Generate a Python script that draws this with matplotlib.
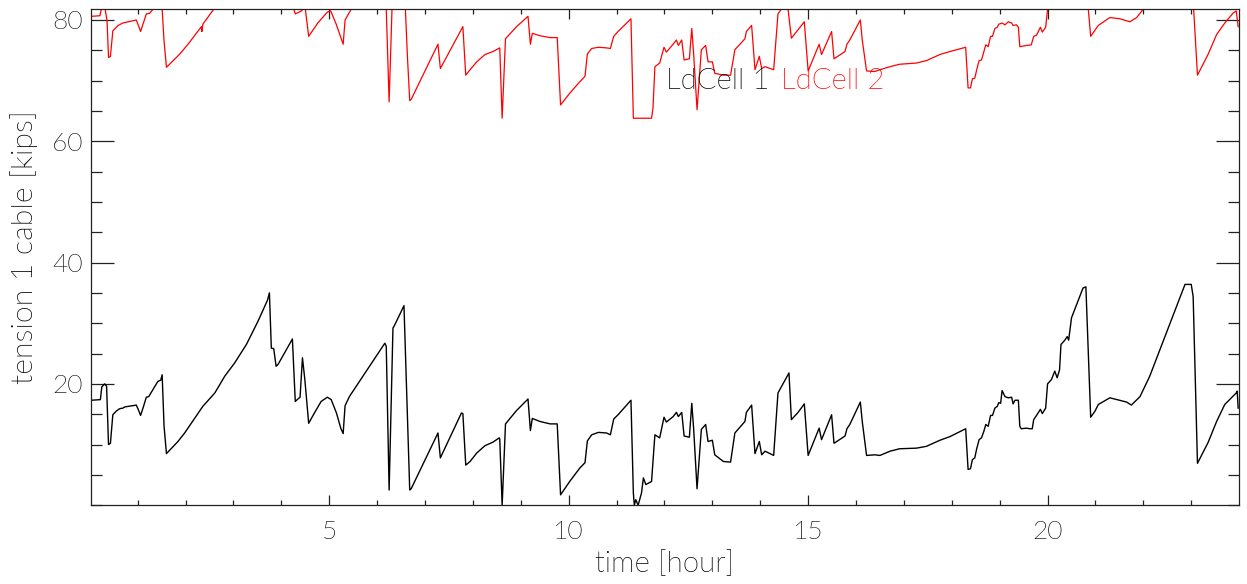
import matplotlib
matplotlib.use("Agg")
import matplotlib.pyplot as plt
import matplotlib.font_manager as fm
from matplotlib.ticker import MultipleLocator, FixedLocator

# thin sans font, like the IDL plot (Lato Light if it is there)
lato_light = [f.fname for f in fm.fontManager.ttflist
              if f.name == 'Lato' and 'Light' in f.fname and 'Italic' not in f.fname]
if lato_light:
    fonte = fm.FontProperties(fname=lato_light[0])
    escala = 1.12
else:
    fonte = fm.FontProperties(family='DejaVu Sans')
    escala = 1.0

# LdCell 1 (black)
hora1 = [0.03, 0.22, 0.25, 0.31, 0.35, 0.39, 0.43, 0.48, 0.55, 0.62, 0.69, 0.73, 0.97, 1.01, 1.06,
         1.11, 1.18, 1.23, 1.42, 1.48, 1.51, 1.55, 1.60, 1.84, 1.98, 2.36, 2.61, 2.82, 3.02, 3.27,
         3.51, 3.71, 3.75, 3.79, 3.84, 3.89, 3.93, 4.23, 4.29, 4.33, 4.39, 4.44, 4.49, 4.57, 4.69,
         4.83, 4.96, 5.04, 5.15, 5.24, 5.29, 5.33, 5.42, 6.16, 6.19, 6.25, 6.33, 6.36, 6.56, 6.68,
         6.71, 7.27, 7.32, 7.76, 7.79, 7.85, 7.94, 8.08, 8.25, 8.42, 8.55, 8.56, 8.61, 8.68, 8.91,
         9.15, 9.20, 9.24, 9.40, 9.61, 9.76, 9.83, 10.02, 10.23, 10.34, 10.39, 10.48, 10.62, 10.79,
         10.87, 10.94, 11.03, 11.30, 11.35, 11.37, 11.40, 11.45, 11.52, 11.56, 11.61, 11.73, 11.80,
         11.90, 11.99, 12.04, 12.18, 12.25, 12.29, 12.36, 12.41, 12.52, 12.57, 12.61, 12.68, 12.77,
         12.86, 12.91, 13.00, 13.05, 13.23, 13.38, 13.47, 13.68, 13.71, 13.82, 13.89, 13.98, 14.03,
         14.10, 14.28, 14.37, 14.60, 14.65, 14.79, 14.92, 15.00, 15.23, 15.28, 15.49, 15.54, 15.77,
         15.81, 15.87, 16.09, 16.13, 16.22, 16.39, 16.50, 16.71, 16.91, 17.26, 17.47, 17.75, 17.96,
         18.29, 18.34, 18.39, 18.43, 18.48, 18.52, 18.57, 18.62, 18.67, 18.71, 18.76, 18.81, 18.85,
         18.90, 18.95, 18.98, 19.02, 19.05, 19.11, 19.18, 19.25, 19.28, 19.32, 19.39, 19.42, 19.45,
         19.56, 19.63, 19.68, 19.71, 19.77, 19.85, 19.89, 19.96, 20.00, 20.08, 20.15, 20.20, 20.25,
         20.28, 20.36, 20.41, 20.44, 20.50, 20.74, 20.80, 20.90, 20.99, 21.06, 21.30, 21.65, 21.75,
         21.93, 22.13, 22.55, 22.87, 23.00, 23.04, 23.13, 23.35, 23.53, 23.70, 23.94, 23.96, 23.98]
cel1 = [17.3, 17.4, 19.5, 20.0, 19.6, 10.0, 10.2, 14.9, 15.5, 15.9, 16.0, 16.2, 16.5, 15.8, 14.8,
        16.0, 17.8, 17.9, 20.4, 20.6, 21.5, 13.0, 8.5, 10.5, 11.9, 16.3, 18.5, 21.3, 23.4, 26.5,
        30.3, 33.8, 35.0, 25.9, 25.8, 22.9, 23.2, 27.4, 17.1, 17.4, 17.8, 24.3, 20.7, 13.5, 15.2,
        17.1, 17.8, 17.4, 15.2, 12.7, 11.8, 16.4, 17.9, 26.7, 26.2, 2.5, 29.2, 29.6, 32.9, 2.5,
        2.7, 11.9, 7.8, 15.2, 15.1, 6.6, 7.2, 8.6, 9.8, 10.4, 11.1, 10.9, 0.0, 13.4, 15.6,
        17.5, 12.3, 14.3, 13.8, 13.4, 13.4, 1.7, 3.9, 6.1, 7.0, 10.6, 11.6, 12.0, 11.9,
        11.6, 14.2, 14.9, 17.3, 2.0, 0.0, 0.9, 0.0, 2.0, 4.5, 3.4, 3.9, 11.6,
        11.1, 14.5, 13.7, 14.6, 15.3, 14.6, 15.3, 11.4, 11.2, 16.8, 12.5, 2.7, 12.5,
        13.3, 10.5, 10.7, 8.3, 7.2, 7.1, 11.9, 13.8, 15.3, 16.5, 8.5, 10.5, 8.3,
        8.9, 8.2, 18.5, 21.8, 14.1, 15.3, 16.7, 8.2, 12.7, 10.8, 14.9, 10.2, 11.4,
        12.6, 13.3, 17.0, 13.8, 8.2, 8.3, 8.2, 8.9, 9.3, 9.4, 9.7, 10.7, 11.3,
        12.6, 5.9, 6.0, 7.5, 7.8, 9.3, 10.8, 11.1, 12.2, 13.3, 13.0, 14.8, 14.8,
        16.0, 16.3, 16.9, 16.8, 18.9, 17.9, 17.7, 17.8, 16.7, 17.3, 17.3, 13.0, 12.6,
        12.7, 12.6, 12.6, 14.1, 14.8, 15.8, 15.1, 16.0, 20.0, 20.7, 22.1, 21.0, 22.3,
        26.5, 27.2, 27.8, 27.2, 30.9, 35.8, 36.0, 14.5, 15.5, 16.6, 17.7, 17.0, 16.5,
        17.9, 21.2, 29.8, 36.4, 36.4, 34.4, 6.9, 10.3, 13.8, 16.6, 18.5, 18.8, 16.0]

# LdCell 2 (red), 81.8 = saturated at the top
hora2 = [0.03, 0.21, 0.24, 0.32, 0.36, 0.39, 0.43, 0.48, 0.59, 0.69, 0.97, 1.01, 1.06, 1.11, 1.18,
         1.25, 1.32, 1.51, 1.55, 1.60, 1.88, 2.05, 2.33, 2.34, 2.36, 2.59, 4.26, 4.29, 4.42, 4.45,
         4.50, 4.57, 4.76, 4.96, 5.03, 5.15, 5.29, 5.33, 5.46, 6.19, 6.25, 6.31, 6.59, 6.63, 6.68,
         6.71, 7.27, 7.32, 7.79, 7.85, 7.94, 8.08, 8.25, 8.42, 8.56, 8.61, 8.68, 8.91, 9.15, 9.20,
         9.24, 9.40, 9.61, 9.76, 9.83, 10.02, 10.23, 10.34, 10.39, 10.48, 10.62, 10.79, 10.87, 10.94,
         11.03, 11.30, 11.35, 11.73, 11.76, 11.80, 11.90, 11.99, 12.04, 12.18, 12.25, 12.29, 12.36,
         12.41, 12.52, 12.57, 12.61, 12.68, 12.77, 12.86, 12.91, 13.00, 13.05, 13.23, 13.38, 13.47,
         13.68, 13.71, 13.82, 13.89, 13.98, 14.03, 14.10, 14.28, 14.37, 14.44, 14.58, 14.65, 14.79,
         14.92, 15.00, 15.23, 15.28, 15.49, 15.54, 15.77, 15.81, 15.87, 16.09, 16.13, 16.22, 16.39,
         16.50, 16.71, 16.91, 17.26, 17.47, 17.75, 17.96, 18.29, 18.34, 18.39, 18.43, 18.48, 18.52,
         18.57, 18.62, 18.67, 18.71, 18.76, 18.81, 18.85, 18.90, 18.95, 18.98, 19.05, 19.11, 19.18,
         19.25, 19.28, 19.35, 19.39, 19.42, 19.56, 19.66, 19.71, 19.77, 19.85, 19.89, 19.96, 20.00,
         20.85, 20.90, 21.06, 21.30, 21.51, 21.72, 21.86, 22.00, 23.05, 23.13, 23.35, 23.53, 23.70,
         23.87, 23.94, 23.98]
cel2 = [80.6, 80.7, 81.8, 81.8, 79.8, 73.8, 74.0, 78.2, 79.1, 79.5, 80.0, 79.2, 78.1, 79.3, 81.0,
        81.1, 81.8, 81.8, 76.5, 72.2, 74.4, 76.0, 78.9, 78.1, 79.3, 81.8, 81.8, 81.0, 81.5, 81.8,
        81.8, 77.3, 79.5, 81.3, 81.5, 79.2, 76.0, 80.0, 81.8, 81.8, 66.5, 81.8, 81.8, 74.3, 66.7,
        66.9, 76.0, 72.0, 78.9, 70.9, 71.8, 73.1, 74.3, 74.8, 75.4, 63.8, 76.9, 78.9, 80.6, 76.0,
        77.8, 77.4, 77.1, 77.1, 66.0, 67.9, 69.8, 70.7, 74.4, 75.3, 75.5, 75.4, 75.3, 77.3,
        78.1, 80.2, 63.8, 63.8, 65.5, 72.3, 72.9, 75.5, 74.7, 76.0, 76.7, 75.8, 76.7,
        73.4, 73.6, 78.6, 74.3, 65.2, 75.1, 75.8, 73.1, 73.1, 71.2, 70.9, 70.9, 75.1,
        76.9, 78.1, 79.1, 71.8, 74.0, 72.0, 72.3, 71.8, 81.0, 81.8, 81.8, 77.0, 78.4,
        79.7, 71.6, 76.0, 74.3, 78.1, 73.6, 74.8, 76.0, 76.7, 80.0, 76.7, 71.6, 71.5,
        71.8, 72.3, 72.7, 72.9, 73.3, 74.3, 74.8, 75.5, 68.8, 68.8, 70.3, 70.4, 71.8,
        73.3, 73.4, 74.8, 75.9, 75.6, 77.3, 77.3, 78.6, 78.8, 79.3, 79.5, 79.2, 79.7,
        79.5, 79.1, 79.2, 78.8, 75.6, 75.8, 75.9, 77.3, 77.5, 78.8, 78.0, 78.8, 81.8,
        81.8, 77.3, 79.1, 80.4, 80.2, 79.7, 80.4, 81.8, 81.8, 70.9, 74.3, 77.6, 79.5,
        81.1, 81.5, 78.9]

fig = plt.figure(figsize=(12.47, 5.84), dpi=100)
ax = fig.add_axes([0.073, 0.135, 0.9203, 0.85])

ax.plot(hora1, cel1, color='black', linewidth=1.0)
ax.plot(hora2, cel2, color='#ff0000', linewidth=0.9)

ax.set_xlim(0.025, 23.99)
ax.set_ylim(0, 81.85)

ax.xaxis.set_major_locator(FixedLocator([5, 10, 15, 20]))
ax.xaxis.set_minor_locator(MultipleLocator(1))
ax.yaxis.set_major_locator(FixedLocator([20, 40, 60, 80]))
ax.yaxis.set_minor_locator(MultipleLocator(5))

ax.tick_params(axis='both', which='both', direction='in', top=True, right=True,
               width=0.9, color='#222222')
ax.tick_params(axis='x', which='major', length=7.2, pad=11)
ax.tick_params(axis='x', which='minor', length=3.6)
ax.tick_params(axis='y', which='major', length=16.5, pad=6)
ax.tick_params(axis='y', which='minor', length=8)

for lab in ax.get_xticklabels() + ax.get_yticklabels():
    lab.set_fontproperties(fonte)
    lab.set_fontsize(17 * escala)
    lab.set_color('black')

for s in ax.spines.values():
    s.set_linewidth(0.9)
    s.set_color('#222222')

ax.set_xlabel('time [hour]', fontproperties=fonte, fontsize=19 * escala, labelpad=4)
ax.set_ylabel('tension 1 cable [kips]', fontproperties=fonte, fontsize=19.5 * escala, labelpad=10)
ax.yaxis.label.set_y(0.52)

ax.text(12.04, 68.7, 'LdCell 1', color='black', fontproperties=fonte,
        fontsize=18.8 * escala, va='baseline')
ax.text(14.43, 68.7, 'LdCell 2', color='#ff0000', fontproperties=fonte,
        fontsize=18.8 * escala, va='baseline')

fig.savefig('out.png', dpi=100)
